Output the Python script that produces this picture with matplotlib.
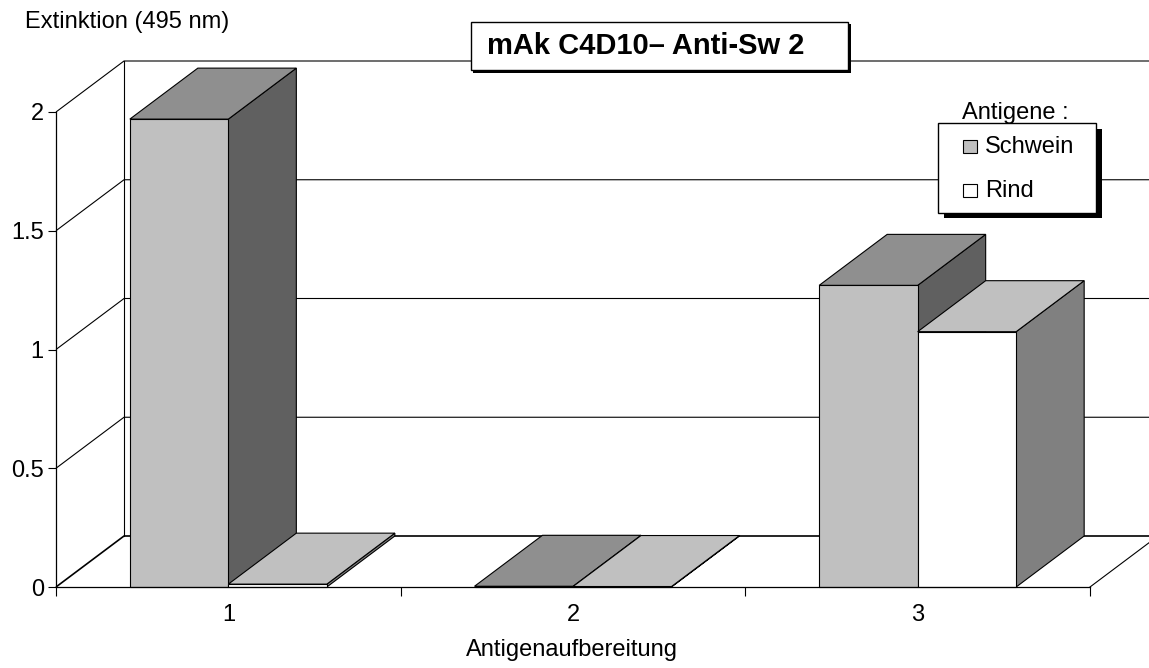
import matplotlib
matplotlib.use("Agg")
import matplotlib.pyplot as plt
from matplotlib.patches import Polygon, Rectangle

# ---------------- data ----------------
categories = ["1", "2", "3"]
series_names = ["Schwein", "Rind"]
schwein = [1.97, 0.003, 1.27]
rind = [0.012, 0.002, 1.075]
y_ticks = [0, 0.5, 1, 1.5, 2]
y_tick_labels = ["0", "0.5", "1", "1.5", "2"]

title = "mAk C4D10\u2013 Anti-Sw 2"
ylabel = "Extinktion (495 nm)"
xlabel = "Antigenaufbereitung"
legend_title = "Antigene :"

# ---------------- style ----------------
W, H, DPI = 1149, 668, 100
plt.rcParams['font.family'] = ['Liberation Sans', 'DejaVu Sans']
FS = 17

face_colors = {
    "Schwein": dict(front="#C0C0C0", top="#8F8F8F", side="#606060"),
    "Rind": dict(front="#FFFFFF", top="#C0C0C0", side="#808080"),
}

fig = plt.figure(figsize=(W / DPI, H / DPI), dpi=DPI)


def fx(p):
    return p / W


def fy(p):
    return 1 - p / H


# front plane of the plot area in pixels
LEFT, RIGHT, BOTTOM, TOP = 56, 1090, 587, 112
ax = fig.add_axes([fx(LEFT), fy(BOTTOM), fx(RIGHT) - fx(LEFT), fy(TOP) - fy(BOTTOM)])
n = len(categories)
ax.set_xlim(0.5, n + 0.5)
ax.set_ylim(0, 2)
ax.patch.set_visible(False)
for s in ["top", "right"]:
    ax.spines[s].set_visible(False)
for s in ["left", "bottom"]:
    ax.spines[s].set_linewidth(0.9)
    ax.spines[s].set_zorder(6)

px_per_x = (RIGHT - LEFT) / n
px_per_y = (BOTTOM - TOP) / 2
DX = 68 / px_per_x      # depth offset in data units
DY = 51 / px_per_y
BW = 98.5 / px_per_x    # bar width

# ticks
ax.set_yticks(y_ticks)
ax.set_yticklabels(y_tick_labels)
ax.tick_params(axis="y", direction="out", length=5.8, width=0.8, pad=3, labelsize=FS)
ax.set_xticks([i + 0.5 for i in range(n + 1)])
ax.set_xticklabels([""] * (n + 1))
ax.set_xticks([i + 1 for i in range(n)], minor=True)
ax.set_xticklabels(categories, minor=True)
ax.tick_params(axis="x", which="major", direction="out", length=6.5, width=0.8)
ax.tick_params(axis="x", which="minor", length=0, pad=12, labelsize=FS)

# walls / gridlines
x0, x1 = 0.5, n + 0.5
for v in y_ticks:
    lw = 1.2 if v == 0 else 0.8
    ax.plot([x0, x0 + DX, x1 + DX], [v, v + DY, v + DY], color="black", lw=lw,
            clip_on=False, zorder=1, solid_capstyle="butt")
ax.plot([x0 + DX, x0 + DX], [DY, y_ticks[-1] + DY], color="black", lw=0.8, clip_on=False, zorder=1)
ax.plot([x1, x1 + DX], [0, DY], color="black", lw=0.8, clip_on=False, zorder=1)

# bars
for i in range(n):
    c = i + 1
    for j, (name, vals) in enumerate(zip(series_names, [schwein, rind])):
        xa = c - BW + j * BW
        xb = xa + BW
        h = vals[i]
        col = face_colors[name]
        side = [(xb, 0), (xb + DX, DY), (xb + DX, h + DY), (xb, h)]
        top = [(xa, h), (xb, h), (xb + DX, h + DY), (xa + DX, h + DY)]
        front = [(xa, 0), (xb, 0), (xb, h), (xa, h)]
        for pts, fc in [(side, col["side"]), (top, col["top"]), (front, col["front"])]:
            ax.add_patch(Polygon(pts, closed=True, facecolor=fc, edgecolor="black",
                                 lw=0.8, clip_on=False, zorder=3, joinstyle="miter"))


# ---------------- text & boxes in figure pixels ----------------
def rect(x0p, y0p, x1p, y1p, **kw):
    r = Rectangle((fx(x0p), fy(y1p)), fx(x1p) - fx(x0p), fy(y0p) - fy(y1p),
                  transform=fig.transFigure, **kw)
    fig.add_artist(r)
    return r


# title box with shadow
rect(473, 24, 851, 73, facecolor="black", edgecolor="none", zorder=10)
rect(471, 22, 848, 70, facecolor="white", edgecolor="black", lw=1.0, zorder=11)
fig.text(fx(487), fy(54), title, fontsize=21, fontweight="bold", ha="left",
         va="baseline", zorder=12)

# axis titles
fig.text(fx(25), fy(28), ylabel, fontsize=FS, ha="left", va="baseline")
fig.text(fx(572), fy(656), xlabel, fontsize=FS, ha="center", va="baseline")

# legend
fig.text(fx(962), fy(119), legend_title, fontsize=FS, ha="left", va="baseline", zorder=12)
rect(944, 129, 1102, 218, facecolor="black", edgecolor="none", zorder=10)
rect(938, 123, 1096, 213, facecolor="white", edgecolor="black", lw=1.0, zorder=11)
for k, (name, base) in enumerate(zip(series_names, [153, 197])):
    rect(963, base - 13, 977, base, facecolor=face_colors[name]["front"],
         edgecolor="black", lw=0.8, zorder=12)
    fig.text(fx(985), fy(base), name, fontsize=FS, ha="left", va="baseline", zorder=12)

fig.savefig("out.png", dpi=DPI)
